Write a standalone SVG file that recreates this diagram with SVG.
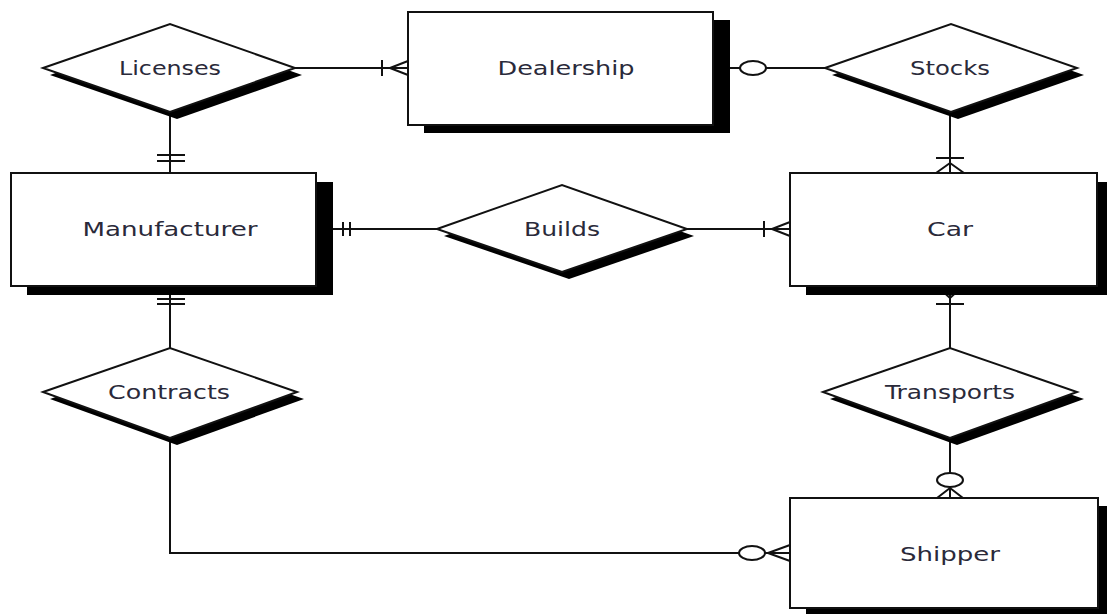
<svg xmlns="http://www.w3.org/2000/svg" width="1107" height="614" viewBox="0 0 1107 614">
<style>
.box{fill:#fff;stroke:#111;stroke-width:2}
.sh{fill:#000}
.dia{fill:#fff;stroke:#111;stroke-width:2;stroke-linejoin:miter}
.ln{fill:none;stroke:#111;stroke-width:2}
.oc{fill:#fff;stroke:#111;stroke-width:2}
.t{font-family:"DejaVu Sans","Liberation Sans",sans-serif;font-size:20px;fill:#2a2a3a;text-anchor:middle}
</style>
<rect width="1107" height="614" fill="#fff"/>
<g id="connectors">
  <!-- Licenses - Dealership -->
  <path class="ln" d="M295 68H408M382 60V76M390 68L408 61M390 68L408 75"/>
  <!-- Licenses - Manufacturer -->
  <path class="ln" d="M170 112V173M157 155H185M157 161H185"/>
  <!-- Dealership - Stocks -->
  <path class="ln" d="M730 68H825"/>
  <ellipse class="oc" cx="753" cy="68" rx="13" ry="7"/>
  <!-- Stocks - Car -->
  <path class="ln" d="M950 112V173M936 158H964M950 163L936 173M950 163L964 173"/>
  <!-- Manufacturer - Builds -->
  <path class="ln" d="M333 229H437M343 222V236M350 222V236"/>
  <!-- Builds - Car -->
  <path class="ln" d="M687 229H790M764 221V237M772 229L790 222M772 229L790 236"/>
  <!-- Manufacturer - Contracts -->
  <path class="ln" d="M170 295V348M157 299H185M157 304H185"/>
  <!-- Car - Transports -->
  <path class="ln" d="M950 286V348M936 304H964M950 298L937 286M950 298L963 286"/>
  <!-- Transports - Shipper -->
  <path class="ln" d="M950 438V498M950 488L937 498M950 488L963 498"/>
  <ellipse class="oc" cx="950" cy="480" rx="13" ry="7"/>
  <!-- Contracts - Shipper -->
  <path class="ln" d="M170 438V553H790M768 553L790 545M768 553L790 561"/>
  <ellipse class="oc" cx="752" cy="553" rx="13" ry="7"/>
</g>
<g id="licenses">
  <polygon class="sh" points="50,75 177,31 302,75 177,119"/>
  <polygon class="dia" points="43,68 170,24 295,68 170,112"/>
  <text class="t" x="170" y="75" textLength="102" lengthAdjust="spacingAndGlyphs">Licenses</text>
</g>
<g id="dealership">
  <rect class="sh" x="424" y="20" width="306" height="113"/>
  <rect class="box" x="408" y="12" width="305" height="113"/>
  <text class="t" x="566" y="75" textLength="137" lengthAdjust="spacingAndGlyphs">Dealership</text>
</g>
<g id="stocks">
  <polygon class="sh" points="832,75 958,31 1084,75 958,119"/>
  <polygon class="dia" points="825,68 951,24 1077,68 951,112"/>
  <text class="t" x="950" y="75" textLength="80" lengthAdjust="spacingAndGlyphs">Stocks</text>
</g>
<g id="manufacturer">
  <rect class="sh" x="27" y="182" width="306" height="113"/>
  <rect class="box" x="11" y="173" width="305" height="113"/>
  <text class="t" x="170" y="236" textLength="175" lengthAdjust="spacingAndGlyphs">Manufacturer</text>
</g>
<g id="builds">
  <polygon class="sh" points="444,236 569,192 694,236 569,279"/>
  <polygon class="dia" points="437,229 562,185 687,229 562,272"/>
  <text class="t" x="562" y="236" textLength="76" lengthAdjust="spacingAndGlyphs">Builds</text>
</g>
<g id="car">
  <rect class="sh" x="806" y="182" width="306" height="113"/>
  <rect class="box" x="790" y="173" width="307" height="113"/>
  <text class="t" x="950" y="236" textLength="46" lengthAdjust="spacingAndGlyphs">Car</text>
</g>
<g id="contracts">
  <polygon class="sh" points="50,399 177,355 304,399 177,445"/>
  <polygon class="dia" points="43,392 170,348 297,392 170,438"/>
  <text class="t" x="169" y="399" textLength="122" lengthAdjust="spacingAndGlyphs">Contracts</text>
</g>
<g id="transports">
  <polygon class="sh" points="830,399 957,355 1084,399 957,445"/>
  <polygon class="dia" points="823,392 950,348 1077,392 950,438"/>
  <text class="t" x="950" y="399" textLength="130" lengthAdjust="spacingAndGlyphs">Transports</text>
</g>
<g id="shipper">
  <rect class="sh" x="806" y="506" width="306" height="110"/>
  <rect class="box" x="790" y="498" width="308" height="110"/>
  <text class="t" x="950" y="561" textLength="100" lengthAdjust="spacingAndGlyphs">Shipper</text>
</g>
</svg>
